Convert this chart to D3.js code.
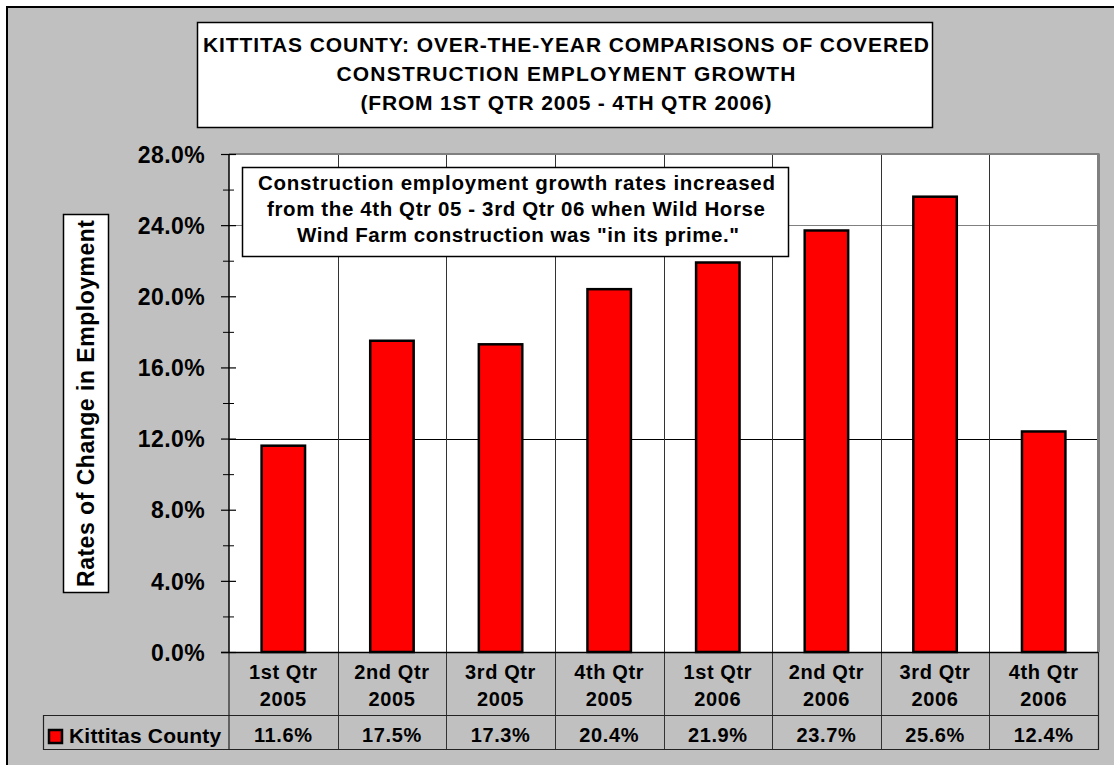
<!DOCTYPE html>
<html>
<head>
<meta charset="utf-8">
<script src="https://cdn.jsdelivr.net/npm/d3@7"></script>
<style>
  html, body { margin: 0; padding: 0; background: #fff; }
  svg { display: block; }
  text { font-family: "Liberation Sans", Arial, Helvetica, sans-serif; font-weight: bold; fill: #000; }
</style>
</head>
<body>
<svg id="chart" width="1114" height="765"></svg>
<script>
// ---- data ----
const categoryQuarters = ["1st Qtr", "2nd Qtr", "3rd Qtr", "4th Qtr", "1st Qtr", "2nd Qtr", "3rd Qtr", "4th Qtr"];
const categoryYears = ["2005", "2005", "2005", "2005", "2006", "2006", "2006", "2006"];
const seriesName = "Kittitas County";
const seriesValues = [11.6, 17.5, 17.3, 20.4, 21.9, 23.7, 25.6, 12.4];
const yTicks = [0, 4, 8, 12, 16, 20, 24, 28];
const yMinorTicks = [2, 6, 10, 14, 18, 22, 26];
const gridValues = [12, 24];
const titleLines = [
  "KITTITAS COUNTY: OVER-THE-YEAR COMPARISONS OF COVERED",
  "CONSTRUCTION EMPLOYMENT GROWTH",
  "(FROM 1ST QTR 2005 - 4TH QTR 2006)"
];
const noteLines = [
  "Construction employment growth rates increased",
  "from the 4th Qtr 05 - 3rd Qtr 06 when Wild Horse",
  "Wind Farm construction was \"in its prime.\""
];
const yAxisTitle = "Rates of Change in Employment";

// ---- layout ----
const svg = d3.select("#chart");
const plot = { left: 229, right: 1098, top: 154, bottom: 652 };
const tableRow1 = 715, tableRow2 = 749, legendLeft = 43;

const keys = categoryQuarters.map((q, i) => i);
const x = d3.scaleBand().domain(keys).range([plot.left, plot.right]).paddingInner(0).paddingOuter(0);
const y = d3.scaleLinear().domain([0, 28]).range([plot.bottom, plot.top]);
const bw = x.bandwidth();
const barW = bw * 0.40;

// outer chart area
svg.append("rect").attr("x", 7).attr("y", 7).attr("width", 1200).attr("height", 800)
  .attr("fill", "#C0C0C0").attr("stroke", "#000").attr("stroke-width", 2);

// plot area
svg.append("rect").attr("x", plot.left).attr("y", plot.top)
  .attr("width", plot.right - plot.left).attr("height", plot.bottom - plot.top)
  .attr("fill", "#fff");

// gridlines
svg.selectAll("line.grid").data(gridValues).enter().append("line")
  .attr("class", "grid")
  .attr("x1", plot.left).attr("x2", plot.right)
  .attr("y1", d => Math.round(y(d)) + 0.5).attr("y2", d => Math.round(y(d)) + 0.5)
  .attr("stroke", (d, i) => i === 0 ? "#000" : "#808080").attr("stroke-width", 1);

// category separators (plot + table)
svg.selectAll("line.sep").data(keys.slice(1)).enter().append("line")
  .attr("class", "sep")
  .attr("x1", d => Math.round(x(d)) + 0.5).attr("x2", d => Math.round(x(d)) + 0.5)
  .attr("y1", plot.top).attr("y2", tableRow2)
  .attr("stroke", "#333").attr("stroke-width", 1);

// bars
svg.selectAll("rect.bar").data(seriesValues).enter().append("rect")
  .attr("class", "bar")
  .attr("x", (d, i) => x(i) + (bw - barW) / 2)
  .attr("width", barW)
  .attr("y", d => y(d))
  .attr("height", d => y(0) - y(d))
  .attr("fill", "#FF0000").attr("stroke", "#000").attr("stroke-width", 2.5);

// plot border (top & right gray)
svg.append("line").attr("x1", plot.left).attr("x2", plot.right + 1.5)
  .attr("y1", plot.top).attr("y2", plot.top).attr("stroke", "#808080").attr("stroke-width", 2);
svg.append("line").attr("x1", plot.right + 0.5).attr("x2", plot.right + 0.5)
  .attr("y1", plot.top).attr("y2", plot.bottom).attr("stroke", "#808080").attr("stroke-width", 3);

// table lines
const tl = svg.append("g").attr("stroke", "#222").attr("stroke-width", 1.2);
tl.append("line").attr("x1", legendLeft).attr("x2", plot.right).attr("y1", tableRow1 + 0.5).attr("y2", tableRow1 + 0.5);
tl.append("line").attr("x1", legendLeft).attr("x2", plot.right).attr("y1", tableRow2 + 0.5).attr("y2", tableRow2 + 0.5);
tl.append("line").attr("x1", legendLeft + 0.5).attr("x2", legendLeft + 0.5).attr("y1", tableRow1).attr("y2", tableRow2 + 1);
tl.append("line").attr("x1", plot.right + 0.5).attr("x2", plot.right + 0.5).attr("y1", plot.bottom).attr("y2", tableRow2 + 1);
tl.append("line").attr("x1", plot.left).attr("x2", plot.left).attr("y1", plot.bottom).attr("y2", tableRow2 + 1);

// y axis: major ticks
const axisG = svg.append("g").attr("transform", `translate(${plot.left},0)`)
  .call(d3.axisLeft(y).tickValues(yTicks).tickFormat(d => d.toFixed(1) + "%"));
axisG.select(".domain").attr("stroke", "#000").attr("stroke-width", 1.5)
  .attr("d", `M0,${plot.top}V${plot.bottom}`);
axisG.selectAll(".tick line").attr("x1", -8).attr("x2", 7).attr("stroke", "#000").attr("stroke-width", 1.2);
axisG.selectAll(".tick text").attr("x", -24).attr("dy", "0.36em")
  .style("font-size", "23px").style("letter-spacing", "0.4px")
  .style("font-family", "'Liberation Sans', Arial, sans-serif").style("font-weight", "bold");
// minor ticks
const minorG = svg.append("g").attr("transform", `translate(${plot.left},0)`)
  .call(d3.axisLeft(y).tickValues(yMinorTicks).tickFormat(""));
minorG.select(".domain").remove();
minorG.selectAll(".tick line").attr("x1", -6).attr("x2", 5).attr("stroke", "#000").attr("stroke-width", 1);
// x axis baseline
svg.append("line").attr("x1", plot.left - 8).attr("x2", plot.right)
  .attr("y1", plot.bottom + 0.5).attr("y2", plot.bottom + 0.5).attr("stroke", "#000").attr("stroke-width", 1.5);

// category labels
const catG = svg.append("g").style("font-size", "20px").style("letter-spacing", "0.6px").attr("text-anchor", "middle");
catG.selectAll("text.q").data(categoryQuarters).enter().append("text")
  .attr("x", (d, i) => x(i) + bw / 2).attr("y", 679).text(d => d);
catG.selectAll("text.yr").data(categoryYears).enter().append("text")
  .attr("x", (d, i) => x(i) + bw / 2).attr("y", 706).text(d => d);
// values row
catG.selectAll("text.v").data(seriesValues).enter().append("text")
  .attr("x", (d, i) => x(i) + bw / 2).attr("y", 742).text(d => d.toFixed(1) + "%");

// legend key + name
svg.append("rect").attr("x", 49).attr("y", 730).attr("width", 13).attr("height", 13)
  .attr("fill", "#FF0000").attr("stroke", "#000").attr("stroke-width", 2.5);
svg.append("text").attr("x", 69).attr("y", 743).style("font-size", "21px").style("letter-spacing", "0.2px")
  .text(seriesName);

// y axis title box
svg.append("rect").attr("x", 63.5).attr("y", 214.5).attr("width", 45).attr("height", 378)
  .attr("fill", "#fff").attr("stroke", "#000").attr("stroke-width", 1.5);
svg.append("text").attr("transform", "translate(94,403.5) rotate(-90)")
  .attr("text-anchor", "middle").style("font-size", "23px")
  .attr("textLength", 367).attr("lengthAdjust", "spacing")
  .text(yAxisTitle);

// annotation box
svg.append("rect").attr("x", 242.5).attr("y", 167.5).attr("width", 546).attr("height", 89)
  .attr("fill", "#fff").attr("stroke", "#000").attr("stroke-width", 1.5);
const noteWidths = [517, 498, 442];
const noteCx = [516.5, 516, 518];
svg.selectAll("text.note").data(noteLines).enter().append("text")
  .attr("x", (d, i) => noteCx[i]).attr("y", (d, i) => 190 + i * 26)
  .attr("text-anchor", "middle").style("font-size", "20.5px")
  .attr("textLength", (d, i) => noteWidths[i]).attr("lengthAdjust", "spacing")
  .text(d => d);

// title box
svg.append("rect").attr("x", 197.5).attr("y", 22.5).attr("width", 735).attr("height", 105)
  .attr("fill", "#fff").attr("stroke", "#000").attr("stroke-width", 1.5);
const titleWidths = [726, 459, 411];
svg.selectAll("text.title").data(titleLines).enter().append("text")
  .attr("x", 566).attr("y", (d, i) => 52 + i * 29)
  .attr("text-anchor", "middle").style("font-size", "21px")
  .attr("textLength", (d, i) => titleWidths[i]).attr("lengthAdjust", "spacing")
  .text(d => d);
</script>
</body>
</html>
